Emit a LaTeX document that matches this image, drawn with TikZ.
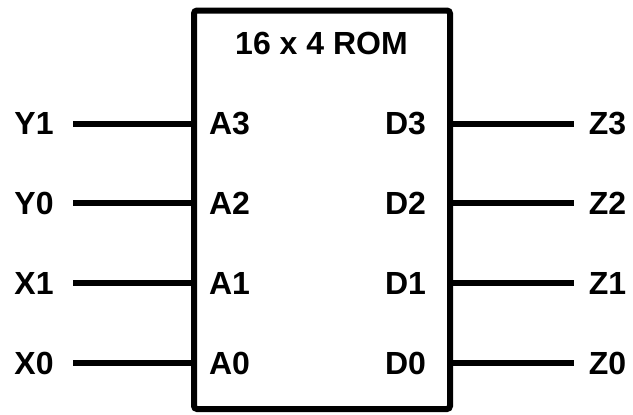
\documentclass[tikz,border=0pt]{standalone}
\usepackage{fontspec}
\setmainfont{Liberation Sans}
\usetikzlibrary{positioning}

\begin{document}
\begin{tikzpicture}[
    x=0.5pt, y=-0.5pt,
    lbl/.style={font=\bfseries\fontsize{16}{19}\selectfont, inner sep=0pt},
    wire/.style={line width=3pt},
    chip/.style={draw, line width=3pt, rounded corners=1.5pt, minimum width=128pt, minimum height=199.25pt, inner sep=0pt}
]
\useasboundingbox (0,0) rectangle (633,414);
\node[chip] (rom) at (322,209.75) {};
\node[lbl] (title) at (321.5,43.5) {16 x 4 ROM};
\foreach \i/\inp/\outp [count=\r from 0] in {3/Y1/Z3, 2/Y0/Z2, 1/X1/Z1, 0/X0/Z0} {
  \pgfmathsetmacro\yy{123.5+79.83*\r}
  \node[lbl] (in\i) at (34,\yy) {\inp};
  \node[lbl] (a\i) at (229.5,\yy) {A\i};
  \node[lbl] (d\i) at (405.5,\yy) {D\i};
  \node[lbl] (out\i) at (607.5,\yy) {\outp};
  \coordinate (win\i) at (73,\yy);
  \coordinate (wout\i) at (574,\yy);
  \draw[wire] (win\i) -- (win\i -| rom.west);
  \draw[wire] (rom.east |- wout\i) -- (wout\i);
}
\end{tikzpicture}
\end{document}
